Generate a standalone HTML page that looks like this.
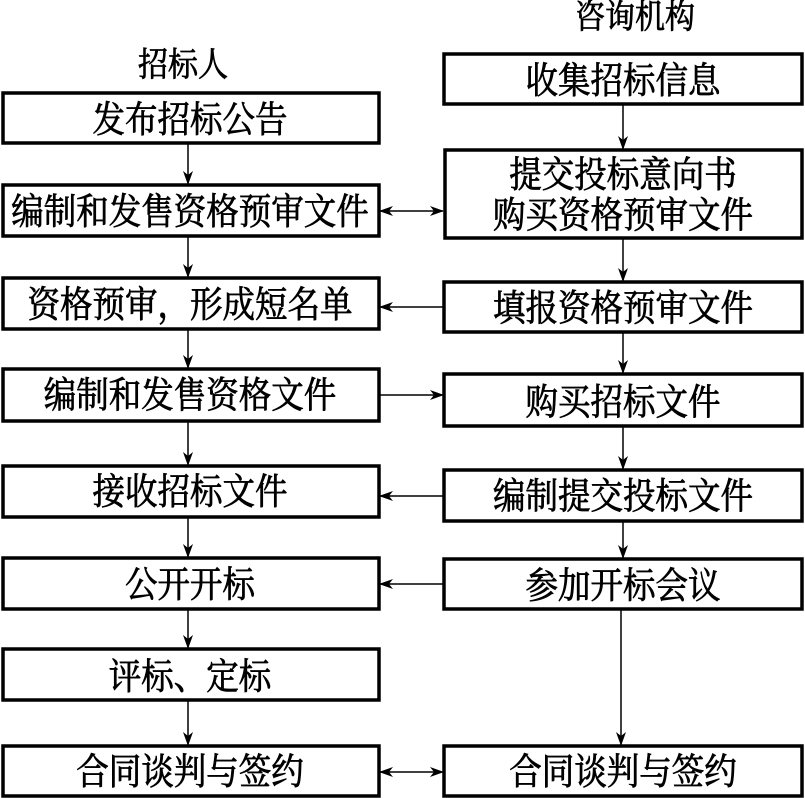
<!DOCTYPE html>
<html><head><meta charset="utf-8"><style>
html,body{margin:0;padding:0;background:#fff;}
svg{display:block;}
text{font-family:"Noto Serif CJK SC","Liberation Serif","Noto Sans CJK SC",serif;font-size:32.5px;fill:#000;stroke:#000;stroke-width:0.7;text-anchor:middle;}
</style></head><body>
<svg width="805" height="798" viewBox="0 0 805 798" xmlns="http://www.w3.org/2000/svg">
<defs>
<marker id="a" viewBox="0 0 14 10" refX="13" refY="5" markerWidth="14" markerHeight="10" markerUnits="userSpaceOnUse" orient="auto-start-reverse">
<path d="M0,0 L14,5 L0,10 L4,5 Z" fill="#000"/>
</marker>
</defs>
<g fill="none" stroke="#000" stroke-width="3.5">
<rect x="3" y="93" width="376" height="50"/>
<rect x="3" y="185" width="376" height="51"/>
<rect x="3" y="278" width="376" height="51"/>
<rect x="3" y="369" width="376" height="52"/>
<rect x="3" y="466" width="376" height="51"/>
<rect x="3" y="558" width="376" height="51"/>
<rect x="3" y="649" width="376" height="51"/>
<rect x="3" y="746" width="376" height="50"/>
<rect x="444" y="54" width="358" height="50"/>
<rect x="445" y="150" width="357" height="88"/>
<rect x="444" y="282" width="358" height="50"/>
<rect x="444" y="374" width="358" height="52"/>
<rect x="444" y="470" width="358" height="51"/>
<rect x="444" y="559" width="358" height="50"/>
<rect x="444" y="746" width="358" height="50"/>
</g>
<g stroke="#000" stroke-width="1.5" marker-end="url(#a)">
<line x1="188" y1="143" x2="188" y2="184"/>
<line x1="188" y1="236" x2="188" y2="277"/>
<line x1="188" y1="329" x2="188" y2="368"/>
<line x1="188" y1="421" x2="188" y2="465"/>
<line x1="188" y1="517" x2="188" y2="557"/>
<line x1="188" y1="609" x2="188" y2="648"/>
<line x1="188" y1="700" x2="188" y2="745"/>
<line x1="623" y1="104" x2="623" y2="149"/>
<line x1="623" y1="238" x2="623" y2="281"/>
<line x1="623" y1="332" x2="623" y2="373"/>
<line x1="623" y1="426" x2="623" y2="469"/>
<line x1="623" y1="521" x2="623" y2="558"/>
<line x1="621" y1="609" x2="621" y2="745"/>
<line x1="444" y1="307" x2="380" y2="307"/>
<line x1="380" y1="395" x2="443" y2="395"/>
<line x1="444" y1="496" x2="380" y2="496"/>
<line x1="444" y1="584" x2="380" y2="584"/>
<line x1="380" y1="211" x2="443" y2="211" marker-start="url(#a)"/>
<line x1="380" y1="772" x2="443" y2="772" marker-start="url(#a)"/>
</g>
<g transform="scale(1,1.12)">
<text x="183" y="68" style="font-size:30px">招标人</text>
<text x="635" y="25" style="font-size:30px">咨询机构</text>
<text x="190" y="118">发布招标公告</text>
<text x="190" y="200">编制和发售资格预审文件</text>
<text x="190" y="283">资格预审，形成短名单</text>
<text x="190" y="364">编制和发售资格文件</text>
<text x="190" y="450">接收招标文件</text>
<text x="190" y="533">公开开标</text>
<text x="190" y="615">评标、定标</text>
<text x="190" y="700">合同谈判与签约</text>
<text x="623" y="83">收集招标信息</text>
<text x="623" y="167">提交投标意向书</text>
<text x="623" y="203">购买资格预审文件</text>
<text x="623" y="286">填报资格预审文件</text>
<text x="623" y="370">购买招标文件</text>
<text x="623" y="454">编制提交投标文件</text>
<text x="623" y="534">参加开标会议</text>
<text x="623" y="700">合同谈判与签约</text>
</g>
</svg>
</body></html>
